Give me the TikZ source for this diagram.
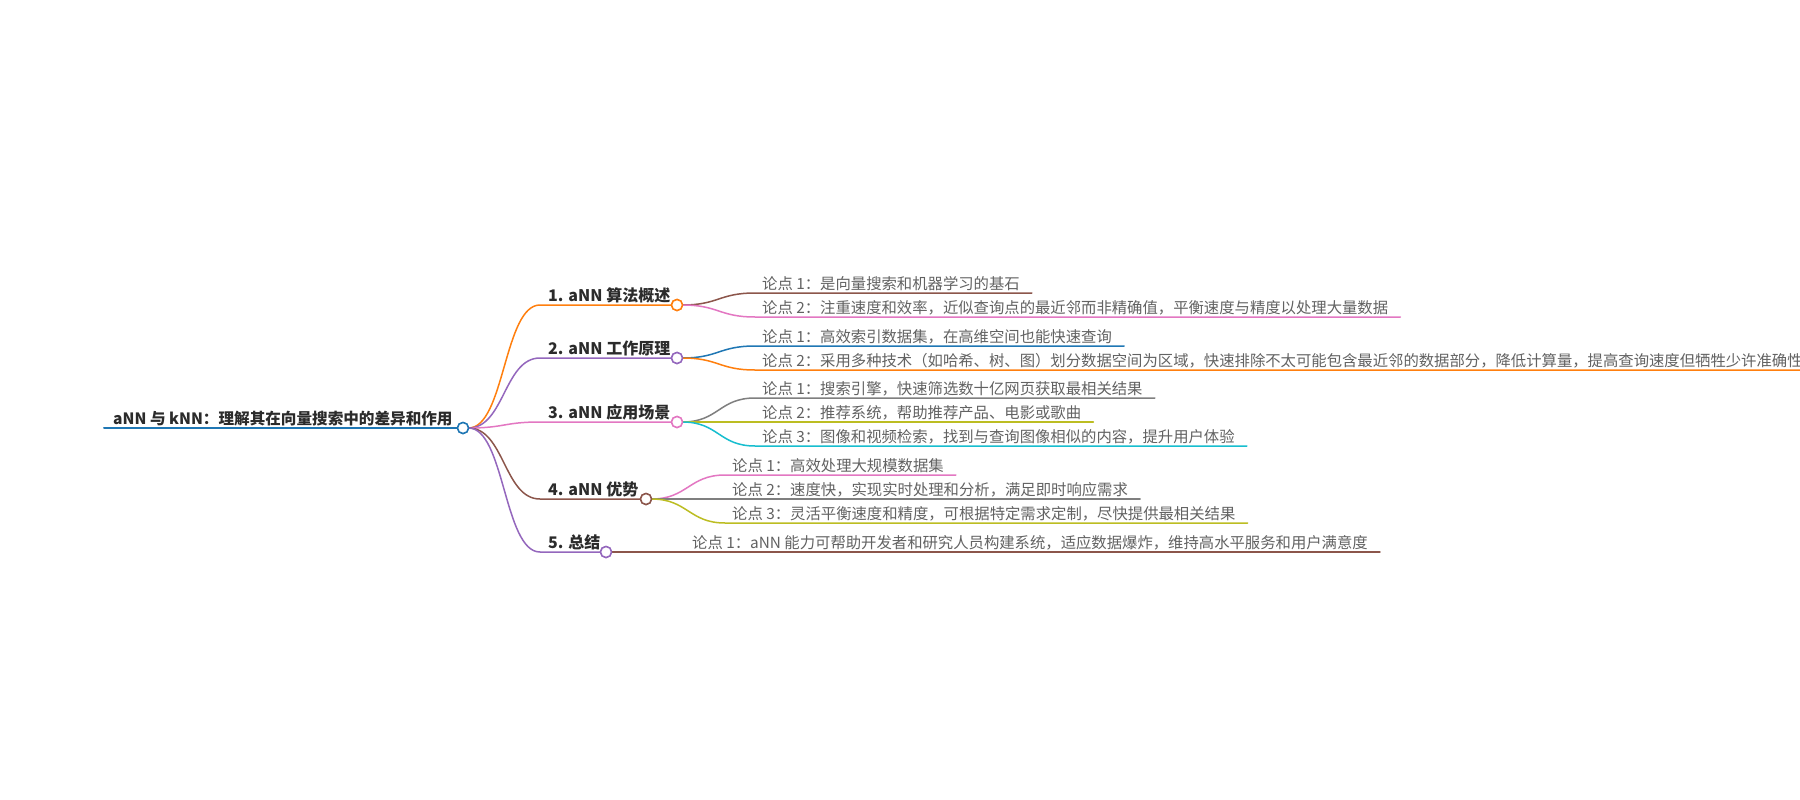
\documentclass[tikz,border=0pt]{standalone}
\usepackage{fontspec}
\setmainfont{Noto Sans CJK SC}
\usetikzlibrary{calc}
\definecolor{cblue}{HTML}{1F77B4}
\definecolor{corange}{HTML}{FF7F0E}
\definecolor{cpurple}{HTML}{9467BD}
\definecolor{cpink}{HTML}{E377C2}
\definecolor{cbrown}{HTML}{8C564B}
\definecolor{cgray}{HTML}{7F7F7F}
\definecolor{colive}{HTML}{BCBD22}
\definecolor{ccyan}{HTML}{17BECF}
\definecolor{darktext}{HTML}{2B2B2B}
\definecolor{leaftext}{HTML}{626262}
\tikzset{
  dot/.style={circle, draw, fill=white, line width=1.5pt, minimum size=11pt, inner sep=0pt, outer sep=0pt},
  roottext/.style={anchor=base west, inner sep=0pt, text=darktext, font=\fontsize{15.6}{16}\selectfont\bfseries},
  branchtext/.style={anchor=base west, inner sep=0pt, text=darktext, font=\fontsize{16}{16}\selectfont\bfseries},
  leaftext/.style={anchor=base west, inner sep=0pt, text=leaftext, font=\fontsize{15.35}{16}\selectfont},
  link/.style={line width=1.5pt, line cap=round},
}
\begin{document}
\begin{tikzpicture}[x=1pt,y=-1pt]
\useasboundingbox (0,0) rectangle (1800,800);
\clip (0,0) rectangle (1800,800);
\fill[white] (0,0) rectangle (1800,800);

% root
\node[dot, draw=cblue] (r) at (463,428) {};
\coordinate (r0) at (104,428);
\node[roottext] (rt) at (113,424.5) {aNN 与 kNN：理解其在向量搜索中的差异和作用};
\draw[link, cblue, line width=2pt] (r0) -- (r.west);

% branch nodes
\node[dot, draw=corange] (b1) at (677,305) {};
\node[dot, draw=cpurple] (b2) at (677,358) {};
\node[dot, draw=cpink]   (b3) at (677,422) {};
\node[dot, draw=cbrown]  (b4) at (646,499) {};
\node[dot, draw=cpurple] (b5) at (606,552) {};
\coordinate (b1s) at (540,305);
\coordinate (b2s) at (540,358);
\coordinate (b3s) at (540,422);
\coordinate (b4s) at (540,499);
\coordinate (b5s) at (540,552);
\node[branchtext] (bt1) at (548,301) {1. aNN 算法概述};
\node[branchtext] (bt2) at (548,354) {2. aNN 工作原理};
\node[branchtext] (bt3) at (548,418) {3. aNN 应用场景};
\node[branchtext] (bt4) at (548,495) {4. aNN 优势};
\node[branchtext] (bt5) at (548,548) {5. 总结};

\draw[link, corange] (r.east) .. controls +(36,0) and +(-36,0) .. (b1s) -- (b1.west);
\draw[link, cpurple] (r.east) .. controls +(36,0) and +(-36,0) .. (b2s) -- (b2.west);
\draw[link, cpink]   (r.east) .. controls +(36,0) and +(-36,0) .. (b3s) -- (b3.west);
\draw[link, cbrown]  (r.east) .. controls +(36,0) and +(-36,0) .. (b4s) -- (b4.west);
\draw[link, cpurple] (r.east) .. controls +(36,0) and +(-36,0) .. (b5s) -- (b5.west);

% leaves of branch 1
\coordinate (l11s) at (755,293);
\coordinate (l12s) at (755,317);
\node[leaftext] (l11) at (762,289.5) {论点 1：是向量搜索和机器学习的基石};
\node[leaftext] (l12) at (762,313.5) {论点 2：注重速度和效率，近似查询点的最近邻而非精确值，平衡速度与精度以处理大量数据};
\draw[link, cbrown] (b1.east) .. controls +(36,0) and +(-36,0) .. (l11s) -- ($(l11s -| l11.east)+(12,0)$);
\draw[link, cpink]  (b1.east) .. controls +(36,0) and +(-36,0) .. (l12s) -- ($(l12s -| l12.east)+(12,0)$);

% leaves of branch 2
\coordinate (l21s) at (755,346);
\coordinate (l22s) at (755,370);
\node[leaftext] (l21) at (762,342.5) {论点 1：高效索引数据集，在高维空间也能快速查询};
\node[leaftext] (l22) at (762,366.5) {论点 2：采用多种技术（如哈希、树、图）划分数据空间为区域，快速排除不太可能包含最近邻的数据部分，降低计算量，提高查询速度但牺牲少许准确性};
\draw[link, cblue]   (b2.east) .. controls +(36,0) and +(-36,0) .. (l21s) -- ($(l21s -| l21.east)+(12,0)$);
\draw[link, corange] (b2.east) .. controls +(36,0) and +(-36,0) .. (l22s) -- ($(l22s -| l22.east)+(12,0)$);

% leaves of branch 3
\coordinate (l31s) at (755,398);
\coordinate (l32s) at (755,422);
\coordinate (l33s) at (755,446);
\node[leaftext] (l31) at (762,394.5) {论点 1：搜索引擎，快速筛选数十亿网页获取最相关结果};
\node[leaftext] (l32) at (762,418.5) {论点 2：推荐系统，帮助推荐产品、电影或歌曲};
\node[leaftext] (l33) at (762,442.5) {论点 3：图像和视频检索，找到与查询图像相似的内容，提升用户体验};
\draw[link, cgray]  (b3.east) .. controls +(36,0) and +(-36,0) .. (l31s) -- ($(l31s -| l31.east)+(12,0)$);
\draw[link, colive] (b3.east) -- (l32s) -- ($(l32s -| l32.east)+(12,0)$);
\draw[link, ccyan]  (b3.east) .. controls +(36,0) and +(-36,0) .. (l33s) -- ($(l33s -| l33.east)+(12,0)$);

% leaves of branch 4
\coordinate (l41s) at (725,475);
\coordinate (l42s) at (725,499);
\coordinate (l43s) at (725,523);
\node[leaftext] (l41) at (732,471.5) {论点 1：高效处理大规模数据集};
\node[leaftext] (l42) at (732,495.5) {论点 2：速度快，实现实时处理和分析，满足即时响应需求};
\node[leaftext] (l43) at (732,519.5) {论点 3：灵活平衡速度和精度，可根据特定需求定制，尽快提供最相关结果};
\draw[link, cpink]  (b4.east) .. controls +(36,0) and +(-36,0) .. (l41s) -- ($(l41s -| l41.east)+(12,0)$);
\draw[link, cgray]  (b4.east) -- (l42s) -- ($(l42s -| l42.east)+(12,0)$);
\draw[link, colive] (b4.east) .. controls +(36,0) and +(-36,0) .. (l43s) -- ($(l43s -| l43.east)+(12,0)$);

% leaf of branch 5
\coordinate (l51s) at (685,552);
\node[leaftext] (l51) at (692,548.5) {论点 1：aNN 能力可帮助开发者和研究人员构建系统，适应数据爆炸，维持高水平服务和用户满意度};
\draw[link, cbrown] (b5.east) -- (l51s) -- ($(l51s -| l51.east)+(12,0)$);

% redraw circles on top
\node[dot, draw=cblue] at (r) {};
\node[dot, draw=corange] at (b1) {};
\node[dot, draw=cpurple] at (b2) {};
\node[dot, draw=cpink] at (b3) {};
\node[dot, draw=cbrown] at (b4) {};
\node[dot, draw=cpurple] at (b5) {};
\end{tikzpicture}
\end{document}
